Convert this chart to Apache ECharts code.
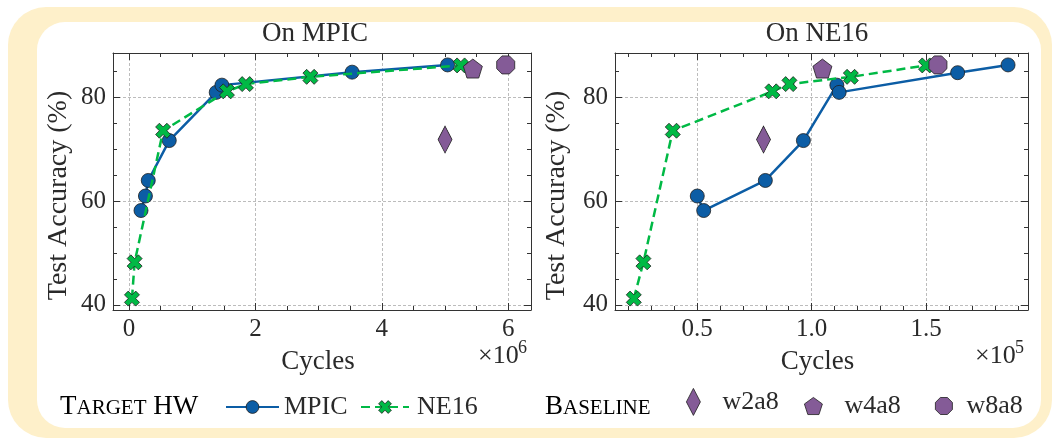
<!DOCTYPE html>
<html><head><meta charset="utf-8">
<script src="https://cdn.jsdelivr.net/npm/echarts@6/dist/echarts.min.js"></script>
<style>html,body{margin:0;padding:0;background:#fff}#c{width:1059px;height:440px}</style>
</head><body><div id="c"></div>
<script>
// ---------------- data ----------------
const accMPIC            = [58.2, 61.0, 64.0, 71.7, 81.0, 82.4, 84.9, 86.3];
const cyclesMPIC_onMPIC  = [190000, 260000, 305000, 637000, 1380000, 1470000, 3530000, 5040000];
const accMPIC_onNE16     = [61.0, 58.2, 64.0, 71.7, 82.4, 81.0, 84.8, 86.3];
const cyclesMPIC_onNE16  = [50100, 52900, 79800, 96400, 111000, 112000, 163700, 185700];
const accNE16            = [41.2, 48.2, 73.6, 81.2, 82.6, 84.0, 86.2];
const cyclesNE16_onMPIC  = [47000, 89000, 540000, 1550000, 1850000, 2870000, 5250000];
const cyclesNE16_onNE16  = [22400, 26600, 39400, 82900, 90300, 117100, 149900];
const baselineNames      = ['w2a8', 'w4a8', 'w8a8'];
const baselineAcc        = [71.9, 85.6, 86.3];
const baselineCycles_onMPIC = [5000000, 5440000, 5960000];
const baselineCycles_onNE16 = [79000, 104700, 155100];
const xTicksMPIC = [0, 2, 4, 6];        // ×10^6
const xTicksNE16 = [0.5, 1.0, 1.5];     // ×10^5
const yTicks     = [40, 60, 80];
const panelTitles = ['On MPIC', 'On NE16'];

// ---------------- styling ----------------
const FONT = 'Liberation Serif';
const TXT = '#2a2a2a';
const BLUE = '#0C5DA5', GREEN = '#00B945', PURPLE = '#845B97', EDGE = '#1f1f1f';
const SYM_X = 'path://M0,2 L2,0 L4,2 L6,0 L8,2 L6,4 L8,6 L6,8 L4,6 L2,8 L0,6 L2,4 Z';
const SYM_PENT = 'path://M50,0 L97.55,34.55 L79.39,90.45 L20.61,90.45 L2.45,34.55 Z';
const SYM_OCT = 'path://M29.3,0 L70.7,0 L100,29.3 L100,70.7 L70.7,100 L29.3,100 L0,70.7 L0,29.3 Z';
const baseSymbols = ['diamond', SYM_PENT, SYM_OCT];
const baseSizes = [[14, 27], 19, 18];

const panels = [
  { grid: {left: 113, top: 53, width: 418, height: 257}, xmin: -253000, xmax: 6360000, scale: 1e6,
    xMajor: xTicksMPIC, xMinorStep: 0.5, dec: 0, nameGapY: 40, exp: '6', titleX: 315,
    mpicX: cyclesMPIC_onMPIC, mpicY: accMPIC, ne16X: cyclesNE16_onMPIC, baseX: baselineCycles_onMPIC },
  { grid: {left: 615, top: 53, width: 413, height: 257}, xmin: 14200, xmax: 194400, scale: 1e5,
    xMajor: xTicksNE16, xMinorStep: 0.1, dec: 1, nameGapY: 44, exp: '5', titleX: 817,
    mpicX: cyclesMPIC_onNE16, mpicY: accMPIC_onNE16, ne16X: cyclesNE16_onNE16, baseX: baselineCycles_onNE16 }
];
const YMIN = 39.0, YMAX = 88.6;

function rangeSteps(lo, hi, step) {
  const out = [];
  for (let k = Math.ceil(lo / step - 1e-9); k * step <= hi + 1e-9; k++) out.push(+(k * step).toFixed(6));
  return out;
}
const lineC = {color: '#333', width: 1};
const xAxes = [], yAxes = [], series = [], grids = [], graphics = [];

panels.forEach((p, i) => {
  grids.push(p.grid);
  const majorsX = p.xMajor.map(v => v * p.scale);
  const minorsX = rangeSteps(p.xmin / p.scale, p.xmax / p.scale, p.xMinorStep)
      .filter(v => !p.xMajor.some(m => Math.abs(m - v) < 1e-6)).map(v => v * p.scale);
  const minorsY = rangeSteps(YMIN, YMAX, 5).filter(v => !yTicks.includes(v));
  const xBase = {gridIndex: i, type: 'value', min: p.xmin, max: p.xmax, axisLabel: {show: false},
                 splitLine: {show: false}, axisLine: {show: false, onZero: false}};
  const yBase = {gridIndex: i, type: 'value', min: YMIN, max: YMAX, axisLabel: {show: false},
                 splitLine: {show: false}, axisLine: {show: false, onZero: false}};
  const mainX = xAxes.length, mainY = yAxes.length;
  xAxes.push(Object.assign({}, xBase, {
    position: 'bottom',
    axisLine: {show: true, onZero: false, lineStyle: lineC},
    axisTick: {inside: true, length: 7, customValues: majorsX, lineStyle: lineC},
    axisLabel: {show: true, customValues: majorsX, margin: 7, color: TXT, fontFamily: FONT, fontSize: 25,
                formatter: v => (v / p.scale).toFixed(p.dec)},
    splitLine: {show: true, lineStyle: {color: '#ababab', width: 0.8, type: [3, 2]}},
    name: 'Cycles', nameLocation: 'middle', nameGap: 38,
    nameTextStyle: {color: TXT, fontFamily: FONT, fontSize: 27, padding: [0, 8, 0, 0]}
  }));
  xAxes.push(Object.assign({}, xBase, {position: 'bottom', axisTick: {inside: true, length: 4, customValues: minorsX, lineStyle: lineC}}));
  xAxes.push(Object.assign({}, xBase, {position: 'top', axisLine: {show: true, onZero: false, lineStyle: lineC},
    axisTick: {inside: true, length: 7, customValues: majorsX, lineStyle: lineC}}));
  xAxes.push(Object.assign({}, xBase, {position: 'top', axisTick: {inside: true, length: 4, customValues: minorsX, lineStyle: lineC}}));

  yAxes.push(Object.assign({}, yBase, {
    position: 'left',
    axisLine: {show: true, onZero: false, lineStyle: lineC},
    axisTick: {inside: true, length: 7, customValues: yTicks, lineStyle: lineC},
    axisLabel: {show: true, customValues: yTicks, margin: 7, color: TXT, fontFamily: FONT, fontSize: 25},
    splitLine: {show: true, lineStyle: {color: '#ababab', width: 0.8, type: [3, 2]}},
    name: 'Test Accuracy (%)', nameLocation: 'middle', nameGap: p.nameGapY,
    nameTextStyle: {color: TXT, fontFamily: FONT, fontSize: 28, padding: [0, 28, 0, 0]}
  }));
  yAxes.push(Object.assign({}, yBase, {position: 'left', axisTick: {inside: true, length: 4, customValues: minorsY, lineStyle: lineC}}));
  yAxes.push(Object.assign({}, yBase, {position: 'right', axisLine: {show: true, onZero: false, lineStyle: lineC},
    axisTick: {inside: true, length: 7, customValues: yTicks, lineStyle: lineC}}));
  yAxes.push(Object.assign({}, yBase, {position: 'right', axisTick: {inside: true, length: 4, customValues: minorsY, lineStyle: lineC}}));

  series.push({
    name: 'MPIC', type: 'line', xAxisIndex: mainX, yAxisIndex: mainY, z: 3,
    data: p.mpicX.map((x, k) => [x, p.mpicY[k]]),
    lineStyle: {color: BLUE, width: 2.5}, symbol: 'circle', symbolSize: 14,
    itemStyle: {color: BLUE, borderColor: EDGE, borderWidth: 0.8}, emphasis: {disabled: true}
  });
  series.push({
    name: 'NE16', type: 'line', xAxisIndex: mainX, yAxisIndex: mainY, z: 4,
    data: p.ne16X.map((x, k) => [x, accNE16[k]]),
    lineStyle: {color: GREEN, width: 2.5, type: [9, 5]}, symbol: SYM_X, symbolSize: 15,
    itemStyle: {color: GREEN, borderColor: EDGE, borderWidth: 0.8}, emphasis: {disabled: true}
  });
  baselineNames.forEach((n, k) => {
    series.push({
      name: n, type: 'scatter', xAxisIndex: mainX, yAxisIndex: mainY, z: 5,
      data: [[p.baseX[k], baselineAcc[k]]],
      symbol: baseSymbols[k], symbolSize: baseSizes[k],
      itemStyle: {color: PURPLE, borderColor: EDGE, borderWidth: 0.8, opacity: 1}, emphasis: {disabled: true}
    });
  });

  graphics.push({type: 'text', x: p.titleX, y: 34, z: 10,
                 style: {text: panelTitles[i], fill: TXT, font: '27px "' + FONT + '"', align: 'center', verticalAlign: 'middle'}});
  const rx = p.grid.left + p.grid.width;
  graphics.push({type: 'text', left: rx - 53, top: 343, z: 10,
                 style: {text: '×10', fill: TXT, font: '26px "' + FONT + '"'}});
  graphics.push({type: 'text', left: rx - 13, top: 339, z: 10,
                 style: {text: p.exp, fill: TXT, font: '18px "' + FONT + '"'}});
});

// frame
graphics.unshift(
  {type: 'rect', z: -20, shape: {x: 8, y: 7, width: 1044, height: 431, r: 38}, style: {fill: '#FEF0CA'}},
  {type: 'rect', z: -19, shape: {x: 37, y: 22, width: 1004, height: 406, r: 28}, style: {fill: '#ffffff'}}
);
// small-caps legend headings
const capRich = {
  a: {fontFamily: FONT, fontSize: 27, color: TXT, lineHeight: 27, verticalAlign: 'bottom'},
  b: {fontFamily: FONT, fontSize: 21, color: TXT, lineHeight: 21, verticalAlign: 'bottom', padding: [0, 0, 1, 0]}
};
graphics.push({type: 'text', left: 60, top: 393, z: 10, style: {text: '{a|T}{b|ARGET}{a| HW}', rich: capRich}});
graphics.push({type: 'text', left: 545, top: 393, z: 10, style: {text: '{a|B}{b|ASELINE}', rich: capRich}});

const legTxt = {color: TXT, fontFamily: FONT, fontSize: 26};
const legends = [
  {data: ['MPIC'], left: 225, top: 394, itemWidth: 53, itemHeight: 16, textStyle: legTxt},
  {data: ['NE16'], left: 360, top: 394, itemWidth: 48, itemHeight: 16, textStyle: Object.assign({}, legTxt, {padding: [0, 0, 0, 3]})},
  {data: ['w2a8'], left: 686, top: 388, itemWidth: 14, itemHeight: 27, textStyle: Object.assign({}, legTxt, {padding: [0, 0, 0, 17]})},
  {data: ['w4a8'], left: 804, top: 393, itemWidth: 18, itemHeight: 18, textStyle: Object.assign({}, legTxt, {padding: [0, 0, 0, 17]})},
  {data: ['w8a8'], left: 935, top: 393, itemWidth: 17, itemHeight: 17, textStyle: Object.assign({}, legTxt, {padding: [0, 0, 0, 9]})}
].map(l => Object.assign({selectedMode: false, padding: 0, itemStyle: {borderColor: EDGE, borderWidth: 0.8}}, l));

const chart = echarts.init(document.getElementById('c'), null, {renderer: 'canvas'});
chart.setOption({
  animation: false,
  backgroundColor: '#fff',
  grid: grids,
  xAxis: xAxes,
  yAxis: yAxes,
  legend: legends,
  series: series,
  graphic: graphics
});
</script></body></html>
